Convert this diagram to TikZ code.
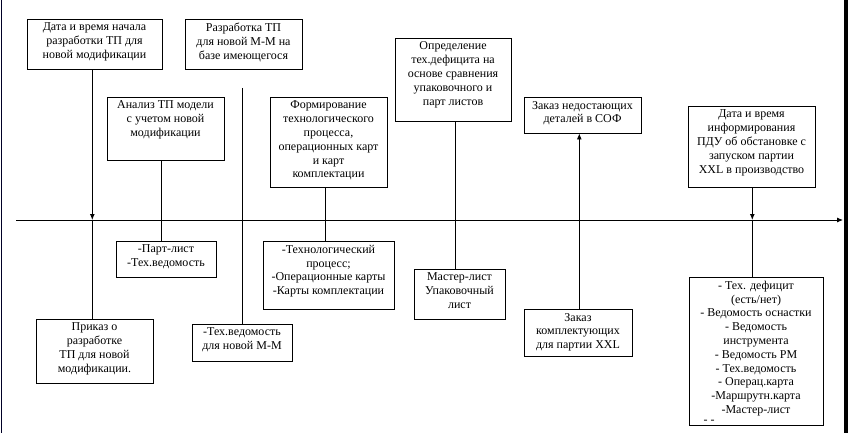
\documentclass[tikz,border=0pt]{standalone}
\usepackage{fontspec}
\setmainfont{Liberation Serif}
\usetikzlibrary{fit,arrows.meta}
\tikzset{
  box/.style={draw, line width=0.9pt, inner sep=0pt, rectangle},
  txt/.style={anchor=north, inner sep=0pt, align=center,
    font=\fontsize{12}{13.8}\selectfont, execute at begin node={\strut}},
  conn/.style={line width=0.9pt},
  arr/.style={line width=0.9pt, -{Latex[length=6pt,width=5pt]}},
}
\begin{document}
\begin{tikzpicture}[x=1pt,y=-1pt]
\useasboundingbox (0,0) rectangle (848,433);
% frame
\draw[line width=1pt, black!85!blue] (1.5,0) -- (1.5,433);
\draw[line width=3.5pt] (845.8,0) -- (845.8,433);
% axis
\coordinate (ax0) at (16,220);
\coordinate (ax1) at (843,220);
\draw[arr] (ax0) -- (ax1);

% upper boxes
\node[box, fit={(27,19)(162,69)}] (a) {};
\node[txt] (at) at ([yshift=-4.3pt]a.north) {Дата и время начала\\разработки ТП для\\новой модификации};
\node[box, fit={(185,19)(302,69)}] (b) {};
\node[txt] (bt) at ([yshift=-4.3pt]b.north) {Разработка ТП\\для новой М-М на\\базе имеющегося};
\node[box, fit={(107,97)(224,160)}] (c) {};
\node[txt] (ct) at ([yshift=-4.3pt]c.north) {Анализ ТП модели\\с учетом новой\\модификации};
\node[box, fit={(270,97)(387,187)}] (d) {};
\node[txt] (dt) at ([yshift=-4.3pt]d.north) {Формирование\\технологического\\процесса,\\операционных карт\\и карт\\комплектации};
\node[box, fit={(395,38)(511,121)}] (e) {};
\node[txt] (et) at ([yshift=-4.3pt]e.north) {Определение\\тех.дефицита на\\основе сравнения\\упаковочного и\\парт листов};
\node[box, fit={(524,97)(641,133)}] (f) {};
\node[txt] (ft) at ([yshift=-4.3pt]f.north) {Заказ недостающих\\деталей в СОФ};
\node[box, fit={(688,106)(815,187)}] (g) {};
\node[txt] (gt) at ([yshift=-4.3pt]g.north) {Дата и время\\информирования\\ПДУ об обстановке с\\запуском партии\\XXL в производство};

% lower boxes
\node[box, fit={(36,319)(153,383)}] (p) {};
\node[txt] (pt) at ([yshift=-4.3pt]p.north) {Приказ о\\разработке\\ТП для новой\\модификации.};
\node[box, fit={(116,241)(216,277)}] (q) {};
\node[txt] (qt) at ([yshift=-4.3pt]q.north) {-Парт-лист\\-Тех.ведомость};
\node[box, fit={(192,324)(292,361)}] (r) {};
\node[txt] (rt) at ([yshift=-4.3pt]r.north) {-Тех.ведомость\\для новой М-М};
\node[box, fit={(263,241)(394,309)}] (s) {};
\node[txt] (st) at ([yshift=-4.3pt]s.north) {-Технологический\\процесс;\\-Операционные карты\\-Карты комплектации};
\node[box, fit={(414,269)(505,319)}] (t) {};
\node[txt] (tt) at ([yshift=-4.3pt]t.north) {Мастер-лист\\Упаковочный\\лист};
\node[box, fit={(524,309)(632,356)}] (u) {};
\node[txt] (ut) at ([yshift=-4.3pt]u.north) {Заказ\\комплектующих\\для партии XXL};
\node[box, fit={(689,277)(823,425)}] (h) {};
\node[txt] (ht) at ([yshift=-4.3pt]h.north) {- Тех. дефицит\\(есть/нет)\\- Ведомость оснастки\\- Ведомость\\инструмента\\- Ведомость РМ\\- Тех.ведомость\\- Операц.карта\\-Маршрутн.карта\\-Мастер-лист};
\node[anchor=base, inner sep=0pt, font=\fontsize{12}{13.8}\selectfont] (hx) at (709,423.5) {- -};

% connector x positions
\coordinate (xa) at (92.3,0);
\coordinate (xc) at (161.3,0);
\coordinate (xb) at (242.3,88);
\coordinate (xd) at (325,0);
\coordinate (xe) at (455,0);
\coordinate (xf) at (579.3,0);
\coordinate (xg) at (752.3,0);

% connectors
\draw[arr] (a.south -| xa) -- (ax0 -| xa);
\draw[conn] (ax0 -| xa) -- (p.north -| xa);
\draw[conn] (c.south -| xc) -- (q.north -| xc);
\draw[conn] (xb) -- (r.north -| xb);
\draw[conn] (d.south -| xd) -- (s.north -| xd);
\draw[conn] (e.south -| xe) -- (t.north -| xe);
\draw[arr] (u.north -| xf) -- (f.south -| xf);
\draw[arr] (g.south -| xg) -- (ax0 -| xg);
\draw[conn] (ax0 -| xg) -- (h.north -| xg);
\end{tikzpicture}
\end{document}
